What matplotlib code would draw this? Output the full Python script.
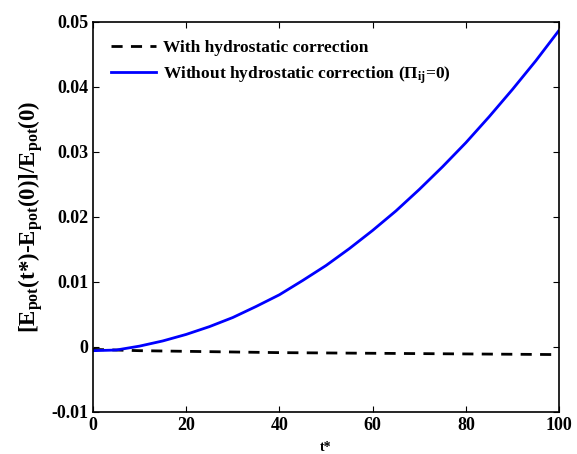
import numpy as np
import matplotlib.pyplot as plt

plt.rcParams['font.family'] = 'Liberation Serif'
plt.rcParams['font.weight'] = 'bold'
plt.rcParams['axes.labelweight'] = 'bold'
plt.rcParams['mathtext.fontset'] = 'custom'
plt.rcParams['mathtext.rm'] = 'Liberation Serif:bold'
plt.rcParams['mathtext.it'] = 'Liberation Serif:bold'
plt.rcParams['mathtext.bf'] = 'Liberation Serif:bold'

# potential energy change vs. nondimensional time
t_nohs = [0, 5, 10, 15, 20, 25, 30, 35, 40, 45, 50,
          55, 60, 65, 70, 75, 80, 85, 90, 95, 100]
e_nohs = [-0.0006, -0.0005, 0.0001, 0.0009, 0.0019, 0.0031, 0.0045, 0.0062,
          0.0080, 0.0102, 0.0125, 0.0151, 0.0179, 0.0209, 0.0242, 0.0277,
          0.0314, 0.0354, 0.0396, 0.0440, 0.0487]

t_hs = [0, 10, 20, 30, 40, 50, 60, 70, 80, 90, 100]
e_hs = [-0.0004, -0.0006, -0.0007, -0.0008, -0.0009, -0.00095,
        -0.0010, -0.00105, -0.0011, -0.00115, -0.0012]

fig = plt.figure(figsize=(5.77, 4.54), dpi=100)
ax = fig.add_axes([0.161, 0.093, 0.808, 0.859])

ax.plot(t_hs, e_hs, 'k--', lw=2, dashes=(4, 3),
        label='With hydrostatic correction')
ax.plot(t_nohs, e_nohs, color='#0000ff', lw=2,
        label='Without hydrostatic correction (\u03a0$_{ij}$=0)')

ax.set_xlim(0, 100)
ax.set_ylim(-0.01, 0.05)
ax.set_xticks([0, 20, 40, 60, 80, 100])
ax.set_yticks([-0.01, 0, 0.01, 0.02, 0.03, 0.04, 0.05])
ax.set_yticklabels(['-0.01', '0', '0.01', '0.02', '0.03', '0.04', '0.05'])
ax.tick_params(direction='in', top=True, right=True, labelsize=13,
               length=4, width=0.8)
for s in ax.spines.values():
    s.set_linewidth(1.2)

ax.set_xlabel('t*', fontsize=10, fontweight='bold', labelpad=5)
ax.set_ylabel('[E$_{pot}$(t*)-E$_{pot}$(0)]/E$_{pot}$(0)', fontsize=16.5,
              fontweight='bold', labelpad=4)

ax.legend(loc='upper left', frameon=False, fontsize=12.5, handlelength=2.6,
          handletextpad=0.4, borderaxespad=0.65, labelspacing=0.45)

fig.savefig('out.png', dpi=100)
